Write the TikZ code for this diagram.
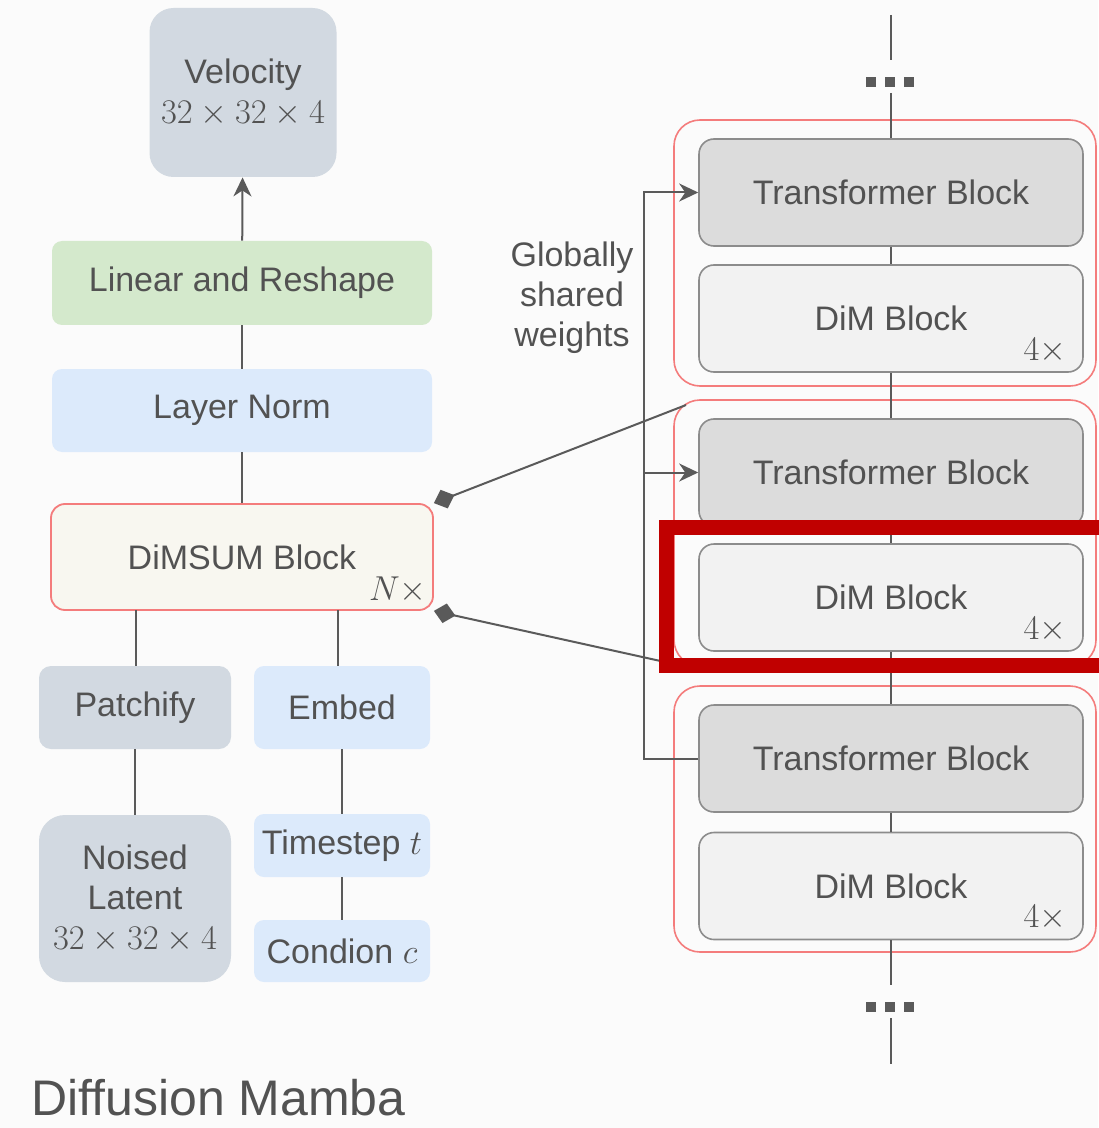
\documentclass[tikz,border=0pt]{standalone}
\usepackage{fontspec}
\setmainfont{Liberation Sans}
\usepackage{amsmath}
\usetikzlibrary{arrows.meta}
\definecolor{ink}{HTML}{525252}
\definecolor{wirec}{HTML}{5A5A5A}
\definecolor{slate}{HTML}{D2D9E1}
\definecolor{mint}{HTML}{D4E9CC}
\definecolor{sky}{HTML}{DCEAFB}
\definecolor{cream}{HTML}{F8F7F0}
\definecolor{rose}{HTML}{F47C7C}
\definecolor{tgray}{HTML}{DCDCDC}
\definecolor{dgray}{HTML}{F2F2F2}
\definecolor{edge}{HTML}{8C8C8C}
\definecolor{hilite}{HTML}{C00000}

\begin{document}
\begin{tikzpicture}[x=0.5pt,y=-0.5pt,
    txt/.style={text=ink,font=\fontsize{17}{20}\selectfont,align=center,inner sep=0pt},
    box/.style={txt,rounded corners=5pt},
    slatebox/.style={box,fill=slate,minimum width=96pt,minimum height=41.5pt,rounded corners=6pt},
    skybox/.style={box,fill=sky,minimum width=88pt},
    blk/.style={txt,draw=edge,line width=0.8pt,rounded corners=7.5pt,minimum width=192pt,minimum height=53.5pt},
    tblk/.style={blk,fill=tgray},
    dblk/.style={blk,fill=dgray},
    grp/.style={draw=rose,line width=0.8pt,rounded corners=13pt,minimum width=211pt,minimum height=133pt},
    wire/.style={draw=wirec,line width=1pt},
    arr/.style={wire,-{Stealth[length=9.5pt,width=9pt,inset=3pt]}},
    dia/.style={wire,-{Diamond[length=11pt,width=10pt]}}]
    \useasboundingbox[fill=black!1.5] (0,0) rectangle (1098,1128);

    \node[slatebox,minimum width=93.5pt,minimum height=84.5pt,rounded corners=12pt] (V) at (243,92.5) {Velocity\\$32\times32\times4$};
    \node[box,fill=mint,minimum width=190pt,minimum height=42pt] (L) at (242,283) {Linear and Reshape};
    \node[box,fill=sky,minimum width=190pt,minimum height=41.5pt] (LN) at (242,410.5) {Layer Norm};
    \node[box,fill=cream,draw=rose,line width=0.9pt,rounded corners=7pt,minimum width=191pt,minimum height=53pt] (D) at (242,557) {DiMSUM Block};
    \node[txt] (Nx) at (398,590) {$N\times$};
    \node[slatebox] (P) at (135,707.5) {Patchify};
    \node[skybox,minimum height=41.5pt] (E) at (342,707.5) {Embed};
    \node[slatebox,minimum height=83.5pt,rounded corners=13pt] (NL) at (135,898.5) {Noised\\Latent\\$32\times32\times4$};
    \node[skybox,minimum height=31.5pt] (T) at (342,845.5) {Timestep $t$};
    \node[skybox,minimum height=31pt] (C) at (342,951) {Condion $c$};
    \node[anchor=west,inner sep=0pt,text=ink,font=\fontsize{25}{30}\selectfont] (ttl) at (31,1098) {Diffusion Mamba};

    \coordinate (d1) at (136,610);
    \coordinate (d2) at (338,610);
    \coordinate (p1) at (136,666);
    \coordinate (e1) at (338,666);
    \draw[arr] (L) -- (V);
    \draw[wire] (LN) -- (L);
    \draw[wire] (D) -- (LN);
    \draw[wire] (d1) -- (p1);
    \draw[wire] (d2) -- (e1);
    \draw[wire] (P) -- (NL);
    \draw[wire] (E) -- (T);
    \draw[wire] (T) -- (C);

    \node[grp] (g1) at (885,253) {};
    \node[grp] (g2) at (885,533) {};
    \node[grp] (g3) at (885,819) {};
    \node[tblk] (tb1) at (891,192.5) {Transformer Block};
    \node[dblk] (dm1) at (891,318.5) {DiM Block};
    \node[tblk] (tb2) at (891,472.5) {Transformer Block};
    \node[dblk] (dm2) at (891,597.5) {DiM Block};
    \node[tblk] (tb3) at (891,758.5) {Transformer Block};
    \node[dblk] (dm3) at (891,886) {DiM Block};
    \node[txt] (k1) at (1045,351) {$4\times$};
    \node[txt] (k2) at (1045,630) {$4\times$};
    \node[txt] (k3) at (1045,918) {$4\times$};
    \node[txt] (gsw) at (572,298) {Globally\\shared\\weights};

    \coordinate (u1) at (891,15);
    \coordinate (u2) at (891,60);
    \coordinate (u3) at (891,93);
    \coordinate (w1) at (891,985);
    \coordinate (w2) at (891,1018);
    \coordinate (w3) at (891,1064);
    \draw[wire] (u1) -- (u2) (u3) -- (tb1);
    \draw[wire] (tb1) -- (dm1);
    \draw[wire] (dm1) -- (tb2);
    \draw[wire] (tb2) -- (dm2);
    \draw[wire] (dm2) -- (tb3);
    \draw[wire] (tb3) -- (dm3);
    \draw[wire] (dm3) -- (w1) (w2) -- (w3);
    \foreach \xx in {871,890,909} {
        \fill[wirec] (\xx-5,77) rectangle (\xx+5,87);
        \fill[wirec] (\xx-5,1002) rectangle (\xx+5,1012);
    }

    \coordinate (bus) at (645,472.5);
    \coordinate (zt) at (686,405);
    \coordinate (zb) at (674,664);
    \draw[arr] (tb3.west) -- ++(-54,0) |- (tb1.west);
    \draw[arr] (bus) -- (tb2.west);

    \draw[dia] (zt) -- (D.north east);
    \draw[dia] (zb) -- (D.south east);

    \draw[hilite,line width=7.5pt] (666,527.5) rectangle (1110,665.5);
\end{tikzpicture}
\end{document}
